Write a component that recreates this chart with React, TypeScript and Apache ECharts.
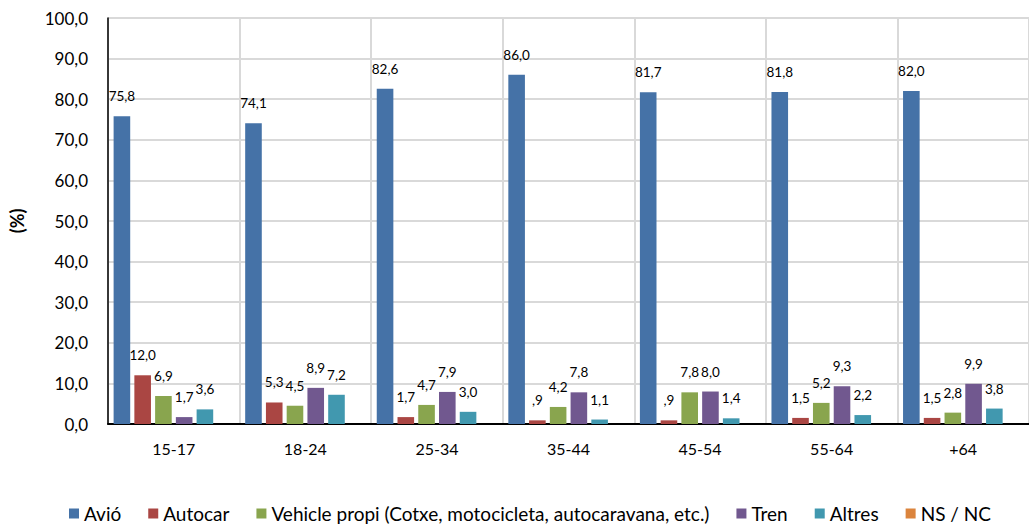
import React, { useEffect, useRef } from "react";
import * as echarts from "echarts";

const categories = ["15-17", "18-24", "25-34", "35-44", "45-54", "55-64", "+64"];
const avio = [75.8, 74.1, 82.6, 86.0, 81.7, 81.8, 82.0];
const autocar = [12.0, 5.3, 1.7, 0.9, 0.9, 1.5, 1.5];
const vehicle = [6.9, 4.5, 4.7, 4.2, 7.8, 5.2, 2.8];
const tren = [1.7, 8.9, 7.9, 7.8, 8.0, 9.3, 9.9];
const altres = [3.6, 7.2, 3.0, 1.1, 1.4, 2.2, 3.8];
const nsnc: (number | null)[] = [null, null, null, null, null, null, null];

const seriesNames = [
  "Avió",
  "Autocar",
  "Vehicle propi (Cotxe, motocicleta, autocaravana, etc.)",
  "Tren",
  "Altres",
  "NS / NC",
];
const colors = ["#4572A7", "#AA4643", "#89A54E", "#71588F", "#4198AF", "#DB843D"];

const fmt = (v: number) => {
  let s = v.toFixed(1).replace(".", ",");
  if (v < 1) s = s.replace(/^0/, "");
  return s;
};

const FONT = "Lato, 'Open Sans', sans-serif";

export default function App() {
  const ref = useRef<HTMLDivElement>(null);
  useEffect(() => {
    if (!ref.current) return;
    const chart = echarts.init(ref.current, null, { renderer: "svg" });
    const datasets = [avio, autocar, vehicle, tren, altres, nsnc];
    chart.setOption({
      animation: false,
      textStyle: { fontFamily: FONT },
      grid: { left: 107, top: 18, width: 930, height: 406, containLabel: false },
      legend: {
        bottom: 1,
        left: 64,
        icon: "rect",
        itemWidth: 10,
        itemHeight: 10,
        itemGap: 27,
        textStyle: { fontFamily: FONT, fontSize: 19, color: "#000" },
        data: seriesNames,
      },
      xAxis: {
        type: "category",
        data: categories,
        axisLine: { lineStyle: { color: "#000", width: 2 } },
        axisTick: { show: false },
        axisLabel: { fontFamily: FONT, fontSize: 16, color: "#000", margin: 16 },
        splitLine: { show: true, lineStyle: { color: "#d9d9d9", width: 2 } },
      },
      yAxis: {
        type: "value",
        min: 0,
        max: 100,
        interval: 10,
        name: "(%)",
        nameLocation: "middle",
        nameGap: 82,
        nameTextStyle: { fontFamily: FONT, fontSize: 18, fontWeight: "bold", color: "#000" },
        axisLine: { show: true, lineStyle: { color: "#000", width: 1.5 } },
        axisTick: { show: false },
        axisLabel: {
          fontFamily: FONT,
          fontSize: 17,
          color: "#000",
          margin: 20,
          formatter: (v: number) => v.toFixed(1).replace(".", ","),
        },
        splitLine: { show: true, lineStyle: { color: "#d9d9d9", width: 2 } },
      },
      series: datasets.map((d, i) => ({
        name: seriesNames[i],
        type: "bar",
        data: d,
        barWidth: 16.6,
        barGap: "25%",
        itemStyle: { color: colors[i] },
        label: {
          show: true,
          position: "top",
          distance: 13,
          fontFamily: FONT,
          fontSize: 13.5,
          color: "#000",
          formatter: (p: any) => (p.value == null ? "" : fmt(p.value)),
        },
      })),
    });
    return () => chart.dispose();
  }, []);
  return (
    <div
      ref={ref}
      style={{ position: "fixed", left: 0, top: 0, width: 1029, height: 529, background: "#fff" }}
    />
  );
}
